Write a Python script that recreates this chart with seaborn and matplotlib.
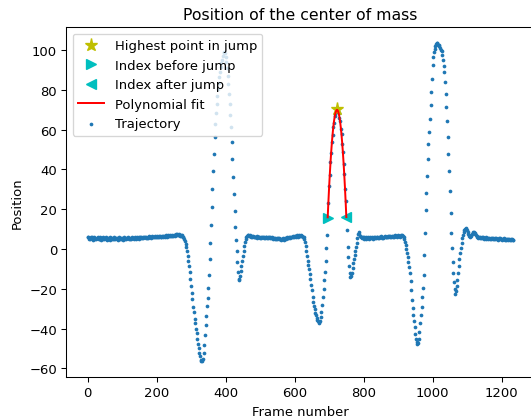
import numpy as np
import pandas as pd
import matplotlib
matplotlib.use("Agg")
import matplotlib.pyplot as plt
import seaborn as sns

# ─────────────────────────────────────────────
# DATA  (position read every 2nd frame, segment by segment)
# ─────────────────────────────────────────────
flat_start = [5.8, 6.3, 5.1, 5.6, 4.9, 6.0, 5.4, 5.9, 4.7, 5.5,
              6.1, 5.2, 4.8, 5.7, 5.3, 6.2, 4.9, 5.0, 5.8, 5.4,
              4.6, 5.3, 5.9, 5.1, 4.8, 5.5, 6.0, 5.2, 4.7, 5.6,
              5.0, 5.4, 4.5, 5.8, 5.3, 4.9, 5.6, 5.1, 6.0, 5.2,
              4.8, 5.5, 5.0, 5.7, 4.6, 5.3, 5.9, 5.1, 5.4, 4.9,
              5.6, 5.2, 4.7, 5.8, 5.0, 5.5, 4.8, 5.3, 6.1, 5.4,
              5.0, 5.7, 5.2, 4.9, 5.6, 5.9, 5.3, 5.1, 5.8, 5.5,
              5.2, 6.0, 5.4, 5.7, 5.1, 5.9, 6.2, 5.5, 5.8, 5.3,
              6.1, 5.6, 5.9, 6.3, 5.4, 6.0, 5.7, 6.2, 5.5, 6.4,
              5.9, 6.2, 5.6, 6.5, 6.0, 5.8, 6.3, 6.1, 6.6, 5.9,
              6.2, 6.5, 5.8, 6.4, 6.1, 6.7, 6.0, 6.3, 6.6, 6.2,
              6.5, 6.8, 6.1, 6.4, 6.9, 6.3, 6.6, 7.0, 6.4, 6.7,
              6.9, 6.5, 7.1, 6.6, 6.8, 7.3, 6.7, 7.0, 7.5, 6.9,
              7.8, 7.2, 7.0, 7.4, 6.8, 7.1, 6.6, 6.9, 6.2]
drop_1 = [6.0, 5.0, 4.2, 2.6, 1.2, -1.0, -3.4, -5.8, -8.6, -11.3,
          -15.2, -18.4, -22.1, -25.3, -29.0, -31.8, -35.2, -37.4, -40.3, -42.1,
          -45.2, -47.6, -49.8, -52.3, -53.9, -55.6, -56.4, -56.5]
rise_1 = [-55.2, -52.4, -48.1, -43.2, -38.3, -33.6, -28.8, -24.7, -19.8, -13.1,
          -5.2, 3.1, 12.2, 21.0, 30.3, 39.1, 47.8, 56.2, 62.9, 68.4,
          73.1, 77.2, 80.4, 83.6, 86.3, 89.1, 91.4, 93.6, 95.3, 97.1,
          98.4, 99.0, 98.6]
fall_1 = [96.4, 94.1, 90.8, 87.2, 82.9, 78.1, 72.8, 67.4, 61.2, 53.9,
          45.3, 36.2, 27.6, 19.1, 11.2, 4.4, -1.2, -6.3, -11.8, -15.6,
          -15.2, -13.4, -11.1, -8.6, -6.2, -3.4, -1.1, 1.6, 3.4, 5.1,
          6.2, 6.6, 7.1, 6.9]
flat_mid = [6.8, 6.4, 6.9, 6.2, 6.6, 6.0, 6.5, 6.1, 5.8, 6.3,
            5.9, 6.4, 5.7, 6.2, 5.8, 6.1, 5.5, 6.0, 5.6, 6.2,
            5.9, 5.4, 6.0, 5.7, 6.3, 5.8, 5.5, 6.1, 5.6, 5.9,
            5.3, 5.8, 5.4, 6.0, 5.5, 5.1, 5.7, 5.2, 5.6, 4.9,
            5.4, 5.0, 5.5, 4.8, 5.3, 5.0, 4.6, 5.2, 4.9, 5.4,
            4.7, 5.1, 5.6, 5.0, 5.4, 5.8, 5.3, 5.7, 6.1, 5.5,
            5.9, 6.3, 5.8, 6.2, 6.6, 6.0, 6.4, 6.8, 6.2, 6.5,
            6.9, 6.3, 6.7, 7.2, 6.6, 7.0, 6.5, 6.8, 6.3]
drop_2 = [6.0, 5.1, 3.6, 1.4, -0.9, -3.3, -5.8, -8.1, -10.2, -12.6,
          -15.1, -18.2, -20.8, -23.9, -26.4, -28.6, -30.3, -32.1, -33.4, -34.6,
          -35.5, -36.4, -36.9, -37.1, -36.2, -34.1, -31.6, -28.3, -24.2, -20.1,
          -15.8, -11.6, -5.9, 0.4, 7.2, 15.6]
jump = [23.2, 31.5, 37.0, 43.8, 48.2, 53.9, 57.1, 61.4, 63.6, 66.8,
        67.9, 69.0, 69.6, 70.2, 69.4, 68.3, 66.0, 64.3, 60.6, 57.8,
        52.9, 49.0, 42.8, 37.8, 30.4, 24.1, 16.2]
landing = [9.4, 1.2, -4.1, -8.3, -11.9, -14.2, -13.6, -12.1, -9.4, -7.2,
           -4.8, -3.1, -0.9, 1.1, 3.2, 5.4, 7.6, 8.7, 7.4, 6.6]
flat_late = [5.8, 6.3, 5.5, 6.1, 5.2, 5.9, 5.4, 6.0, 5.1, 5.7,
             5.3, 5.9, 5.0, 5.6, 6.1, 5.4, 5.8, 5.2, 5.7, 6.2,
             5.5, 5.9, 5.3, 5.8, 6.3, 5.6, 6.0, 5.4, 5.9, 6.4,
             5.7, 6.1, 5.6, 6.2, 5.8, 6.5, 6.0, 6.3, 5.9, 6.6,
             6.1, 6.4, 5.9, 6.7, 6.2, 6.5, 6.0, 6.8, 6.3, 6.6,
             6.9, 6.4, 6.7, 6.2, 7.0, 6.5, 6.8, 6.3, 7.1, 6.6,
             6.9, 6.4]
drop_3 = [6.0, 5.2, 3.6, 2.1, 0.2, -1.8, -4.1, -6.4, -9.2, -12.3,
          -16.1, -20.8, -25.7, -29.9, -33.2, -36.1, -39.4, -42.8, -45.3, -46.9,
          -47.9, -47.4, -45.1]
rise_3 = [-41.6, -37.4, -33.2, -28.9, -24.3, -19.6, -13.2, -3.1, 8.2, 19.6,
          28.4, 36.9, 45.2, 52.6, 59.1, 65.4, 72.2, 78.9, 85.7, 92.3,
          96.6, 99.1, 100.7, 102.1, 103.0, 103.5, 103.4, 102.8, 102.6, 101.9,
          101.2, 100.3, 99.4]
fall_3 = [97.6, 95.1, 92.2, 88.8, 84.1, 78.2, 71.6, 64.4, 56.3, 47.9,
          39.2, 29.1, 18.2, 8.1, 0.6, -6.4, -12.2, -16.7, -20.3, -22.4,
          -21.1, -18.6, -15.4, -12.1, -8.6, -5.2, -2.1, 0.6, 3.1, 5.4,
          7.1, 8.4, 9.5, 10.1, 10.4, 10.2, 9.4, 8.6, 7.4, 6.6,
          6.1, 6.6, 7.1, 7.6, 8.1, 8.5, 8.6, 8.2, 7.6, 7.0,
          6.4]
flat_end = [6.1, 5.6, 6.2, 5.4, 5.9, 5.3, 6.0, 5.5, 5.8, 5.2,
            5.7, 5.3, 5.9, 5.1, 5.6, 5.4, 5.0, 5.7, 5.2, 5.5,
            4.9, 5.4, 5.1, 5.6, 4.8, 5.3, 5.0, 5.5, 4.9, 5.2,
            4.7, 5.4, 5.0, 5.3, 4.8, 5.1, 4.6, 5.2, 4.9, 5.3,
            4.7, 5.0, 4.5, 5.1, 4.8, 4.4, 5.0, 4.6, 4.9, 4.3,
            4.8, 4.5, 4.7]

# first frame number of every segment
SEGMENTS = [(0, flat_start), (278, drop_1), (334, rise_1), (400, fall_1),
            (468, flat_mid), (626, drop_2), (698, jump), (752, landing),
            (792, flat_late), (916, drop_3), (962, rise_3), (1028, fall_3),
            (1130, flat_end)]

BEFORE_FRAME = 696
AFTER_FRAME = 750

frames = np.concatenate([start + 2 * np.arange(len(v)) for start, v in SEGMENTS])
position = np.concatenate([np.asarray(v, dtype=float) for _, v in SEGMENTS])
traj = pd.DataFrame({"frame": frames, "position": position})

# ─────────────────────────────────────────────
# JUMP + FIT
# ─────────────────────────────────────────────
in_jump = traj[(traj["frame"] >= BEFORE_FRAME) & (traj["frame"] <= AFTER_FRAME)]
top = in_jump.loc[in_jump["position"].idxmax()]
before = traj[traj["frame"] == BEFORE_FRAME]
after = traj[traj["frame"] == AFTER_FRAME]

coeffs = np.polyfit(in_jump["frame"], in_jump["position"], 2)
fit_x = in_jump["frame"].to_numpy()
fit_y = np.polyval(coeffs, fit_x)

# ─────────────────────────────────────────────
# PLOT
# ─────────────────────────────────────────────
DPI = 94.5
fig = plt.figure(figsize=(531 / DPI, 419 / DPI), dpi=DPI)
ax = fig.add_axes([66.3 / 531, 40.7 / 419, 468.3 / 531, 350 / 419])

ax.plot([top["frame"]], [top["position"]], "y*", markersize=10, label="Highest point in jump")
ax.plot(before["frame"], before["position"], "c>", markersize=8, label="Index before jump")
ax.plot(after["frame"], after["position"], "c<", markersize=8, label="Index after jump")
sns.lineplot(x=fit_x, y=fit_y, color="red", linewidth=1.5, ax=ax, label="Polynomial fit")
sns.scatterplot(data=traj, x="frame", y="position", s=8, linewidth=0, color="C0",
                ax=ax, label="Trajectory", zorder=1)

ax.set_title("Position of the center of mass")
ax.set_xlabel("Frame number")
ax.set_ylabel("Position")
ax.legend(loc="upper left")

fig.savefig("out.png", dpi=DPI)
